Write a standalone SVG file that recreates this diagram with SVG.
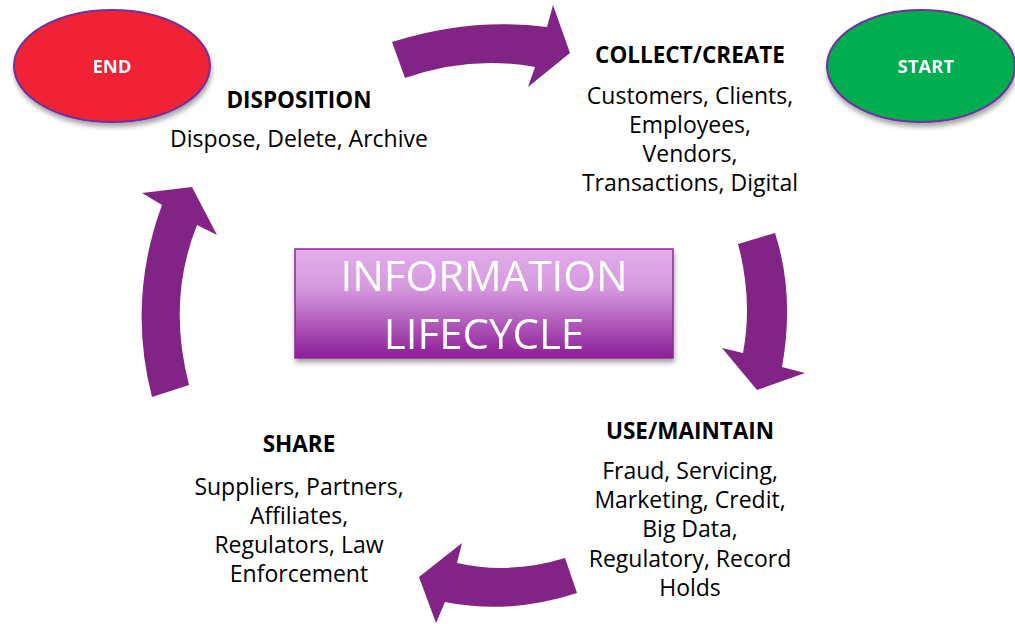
<svg xmlns="http://www.w3.org/2000/svg" width="1015" height="624" viewBox="0 0 1015 624">
  <defs>
    <linearGradient id="boxGrad" x1="0" y1="0" x2="0" y2="1">
      <stop offset="0" stop-color="#E2ACEA"/>
      <stop offset="0.35" stop-color="#D69BDF"/>
      <stop offset="1" stop-color="#8C1C96"/>
    </linearGradient>
    <filter id="shadow" x="-10%" y="-10%" width="120%" height="130%">
      <feGaussianBlur in="SourceAlpha" stdDeviation="2.5"/>
      <feOffset dx="1" dy="4" result="b"/>
      <feComponentTransfer><feFuncA type="linear" slope="0.35"/></feComponentTransfer>
      <feMerge><feMergeNode/><feMergeNode in="SourceGraphic"/></feMerge>
    </filter>
  </defs>
  <style>
    .arrow { fill: #822486; }
    .oval { stroke: #7030A0; stroke-width: 2; }
    .ovalText { font-family: "Open Sans", "Liberation Sans", sans-serif; font-weight: bold; font-size: 18.5px; fill: #ffffff; text-anchor: middle; }
    .head { font-family: "Open Sans", "Liberation Sans", sans-serif; font-weight: bold; font-size: 22.5px; fill: #000000; text-anchor: middle; }
    .body { font-family: "Open Sans", "Liberation Sans", sans-serif; font-size: 23px; fill: #000000; text-anchor: middle; }
    .title { font-family: "Open Sans", "Liberation Sans", sans-serif; font-size: 42px; fill: #ffffff; text-anchor: middle; }
  </style>
  <rect width="1015" height="624" fill="#ffffff"/>

  <!-- cycle arrows -->
  <g id="connectors">
    <path class="arrow" d="M392,42 Q470,17 547,27 L553,5 L570,53 L528,87 L535,67 Q470,55 405,78 Z"/>
    <path class="arrow" d="M775,233 Q795,295 782,367 L805,373 L757,390 L722,348 L743,353 Q753,300 738,244 Z"/>
    <path class="arrow" d="M565,558 Q510,575 457,563 L462,543 L419,577 L436,623 L445,602 Q510,615 577,593 Z"/>
    <path class="arrow" d="M152,397 Q127,300 162,205 L142,193 L192,187 L217,235 L197,225 Q167,300 189,385 Z"/>
  </g>

  <g id="end" filter="url(#shadow)">
    <ellipse class="oval" cx="112" cy="66" rx="98" ry="56" fill="#F02235"/>
    <text class="ovalText" x="112" y="73">END</text>
  </g>

  <g id="start" filter="url(#shadow)">
    <ellipse class="oval" cx="921" cy="66" rx="94" ry="56" fill="#00AD50"/>
    <text class="ovalText" x="926" y="73">START</text>
  </g>

  <g id="center" filter="url(#shadow)">
    <rect x="295" y="249" width="378" height="109" fill="url(#boxGrad)" stroke="#8E2A98" stroke-width="1.5"/>
    <text class="title" x="484" y="291">INFORMATION</text>
    <text class="title" x="484" y="349">LIFECYCLE</text>
  </g>

  <g id="collect">
    <text class="head" x="690" y="63">COLLECT/CREATE</text>
    <text class="body" x="690" y="104">Customers, Clients,</text>
    <text class="body" x="690" y="133">Employees,</text>
    <text class="body" x="690" y="162">Vendors,</text>
    <text class="body" x="690" y="191">Transactions, Digital</text>
  </g>

  <g id="use">
    <text class="head" x="690" y="439">USE/MAINTAIN</text>
    <text class="body" x="690" y="479">Fraud, Servicing,</text>
    <text class="body" x="690" y="508">Marketing, Credit,</text>
    <text class="body" x="690" y="537">Big Data,</text>
    <text class="body" x="690" y="567">Regulatory, Record</text>
    <text class="body" x="690" y="596">Holds</text>
  </g>

  <g id="share">
    <text class="head" x="299" y="452">SHARE</text>
    <text class="body" x="299" y="495">Suppliers, Partners,</text>
    <text class="body" x="299" y="524">Affiliates,</text>
    <text class="body" x="299" y="553">Regulators, Law</text>
    <text class="body" x="299" y="582">Enforcement</text>
  </g>

  <g id="disposition">
    <text class="head" x="299" y="108">DISPOSITION</text>
    <text class="body" x="299" y="147">Dispose, Delete, Archive</text>
  </g>
</svg>
